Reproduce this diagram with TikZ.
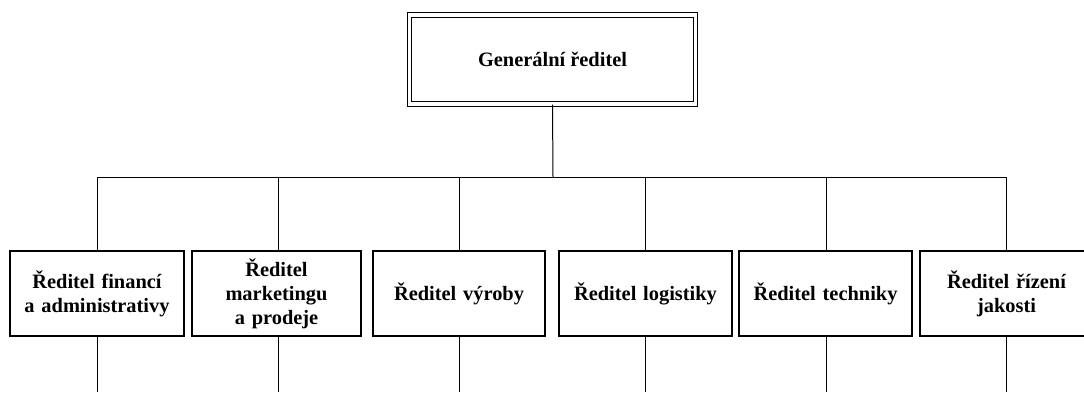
\documentclass[tikz,border=0pt]{standalone}
\usepackage{fontspec}
\setmainfont{Liberation Serif}
\begin{document}
\begin{tikzpicture}[x=1pt,y=-1pt,
  every node/.style={font=\bfseries\fontsize{20.4}{24}\selectfont, align=center, inner sep=0pt},
  topbox/.style={draw, double, double distance=3.4pt, line width=1.2pt,
    minimum width=286pt, minimum height=89pt},
  unitbox/.style={draw, line width=2pt, minimum height=85pt, text width=#1pt-10pt, minimum width=#1pt},
  link/.style={line width=1pt}]
  \clip (0,0) rectangle (1084,392);
  \useasboundingbox (0,0) rectangle (1084,392);

  % head of the company
  \node[topbox] (gr) at (552.5,59.5) {Generální ředitel};

  % directors
  \node[unitbox=174] (fin) at (97,293.5)    {Ředitel financí\\a administrativy};
  \node[unitbox=169] (mkt) at (276.5,293.5) {Ředitel\\marketingu\\a prodeje};
  \node[unitbox=172] (vyr) at (459,293.5)   {Ředitel výroby};
  \node[unitbox=173] (log) at (645.5,293.5) {Ředitel logistiky};
  \node[unitbox=173] (tech) at (825.5,293.5) {Ředitel techniky};
  \node[unitbox=173] (jak) at (1006.5,293.5) {Ředitel řízení\\jakosti};

  % bus line and drops
  \coordinate (bus) at (553,177);
  \draw[link] (gr.south) -- (bus);
  \draw[link] (97,177) -- (1006,177);
  \foreach \n/\x in {fin/97, mkt/278, vyr/459, log/645, tech/826, jak/1006} {
    \coordinate (\n top) at (\x,177);
    \coordinate (\n bot) at (\x,392);
    \draw[link] (\n top) -- (\x,250);
    \draw[link] (\x,337) -- (\n bot);
  }
\end{tikzpicture}
\end{document}
